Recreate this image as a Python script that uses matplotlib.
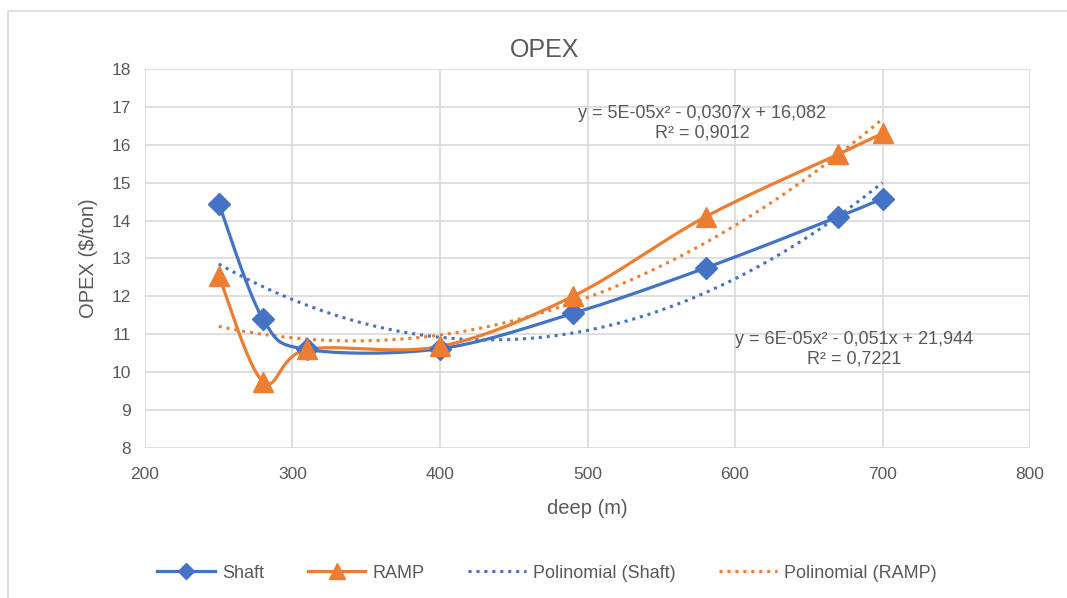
import numpy as np
import matplotlib.pyplot as plt
from matplotlib.patches import Rectangle
from matplotlib.lines import Line2D

plt.rcParams['font.family'] = ['Liberation Sans', 'DejaVu Sans']

deep = [250, 280, 310, 400, 490, 580, 670, 700]
shaft = [14.45, 11.40, 10.60, 10.62, 11.55, 12.75, 14.10, 14.58]
ramp = [12.55, 9.75, 10.60, 10.68, 12.00, 14.10, 15.75, 16.30]

shaft_eq = "y = 6E-05x² - 0,051x + 21,944\nR² = 0,7221"
ramp_eq = "y = 5E-05x² - 0,0307x + 16,082\nR² = 0,9012"

BLUE = "#4472C4"
ORANGE = "#ED7D31"
GRAY = "#595959"

XMIN, XMAX, YMIN, YMAX = 200, 800, 8, 18
AX_W, AX_H = 885, 379  # plot area in pixels, used for smoothing


def smooth(xs, ys, n=30):
    # Bezier smoothing through every point, computed in screen space
    px = (np.array(xs, float) - XMIN) / (XMAX - XMIN) * AX_W
    py = (np.array(ys, float) - YMIN) / (YMAX - YMIN) * AX_H
    pts = np.column_stack([px, py])
    out = [pts[0]]
    t = np.linspace(0, 1, n)[1:, None]
    for i in range(len(pts) - 1):
        p0 = pts[i - 1] if i > 0 else pts[i]
        p1, p2 = pts[i], pts[i + 1]
        p3 = pts[i + 2] if i + 2 < len(pts) else pts[i + 1]
        c1 = p1 + (p2 - p0) / 6
        c2 = p2 - (p3 - p1) / 6
        seg = ((1 - t) ** 3) * p1 + 3 * ((1 - t) ** 2) * t * c1 + 3 * (1 - t) * t ** 2 * c2 + t ** 3 * p2
        out.extend(seg)
    out = np.array(out)
    return out[:, 0] / AX_W * (XMAX - XMIN) + XMIN, out[:, 1] / AX_H * (YMAX - YMIN) + YMIN


fig = plt.figure(figsize=(10.67, 5.98), dpi=100)
fig.patches.append(Rectangle((8 / 1067, -0.1), 1.2, 1 - 11 / 598 + 0.1, transform=fig.transFigure,
                             fill=False, edgecolor="#D9D9D9", linewidth=1.2))
ax = fig.add_axes([145 / 1067, 1 - 448 / 598, 885 / 1067, 379 / 598])

ax.set_xlim(XMIN, XMAX)
ax.set_ylim(YMIN, YMAX)
ax.set_xticks(range(200, 801, 100))
ax.set_yticks(range(8, 19, 1))
ax.grid(True, color="#D9D9D9", linewidth=1.2)
ax.set_axisbelow(True)
for s in ax.spines.values():
    s.set_visible(False)
ax.tick_params(length=0, labelsize=12.5, colors=GRAY)
ax.tick_params(axis="x", pad=14)
ax.tick_params(axis="y", pad=10)

# polynomial trendlines
xt = np.linspace(250, 700, 200)
for ys, col in [(shaft, BLUE), (ramp, ORANGE)]:
    c = np.polyfit(deep, ys, 2)
    ax.plot(xt, np.polyval(c, xt), color=col, linestyle=(0, (1, 1.6)), linewidth=2.2, zorder=2)

# smoothed data series
sx, sy = smooth(deep, shaft)
ax.plot(sx, sy, color=BLUE, linewidth=2.3, zorder=3)
ax.plot(deep, shaft, linestyle="none", marker="D", markersize=11, color=BLUE, zorder=4)
rx, ry = smooth(deep, ramp)
ax.plot(rx, ry, color=ORANGE, linewidth=2.3, zorder=3)
ax.plot(deep, ramp, linestyle="none", marker="^", markersize=14, color=ORANGE, zorder=4)

ax.text(578, 16.58, ramp_eq, ha="center", va="center", fontsize=13, color=GRAY, linespacing=1.2)
ax.text(681, 10.61, shaft_eq, ha="center", va="center", fontsize=13, color=GRAY, linespacing=1.2)

fig.text(545 / 1067, 1 - 50 / 598, "OPEX", fontsize=18, color=GRAY, ha="center", va="center")
ax.set_xlabel("deep (m)", fontsize=14.5, color=GRAY, labelpad=12)
ax.set_ylabel("OPEX ($/ton)", fontsize=14.5, color=GRAY, labelpad=10)

handles = [
    Line2D([], [], color=BLUE, linewidth=2.3, marker="D", markersize=8),
    Line2D([], [], color=ORANGE, linewidth=2.3, marker="^", markersize=11),
    Line2D([], [], color=BLUE, linestyle=(0, (1, 1.6)), linewidth=2.2),
    Line2D([], [], color=ORANGE, linestyle=(0, (1, 1.6)), linewidth=2.2),
]
labels = ["Shaft", "RAMP", "Polinomial (Shaft)", "Polinomial (RAMP)"]
leg = fig.legend(handles, labels, loc="center", bbox_to_anchor=(547 / 1067, 1 - 573 / 598), ncol=4,
                 frameon=False, fontsize=13, handlelength=3.2, columnspacing=2.4, handletextpad=0.4)
for t in leg.get_texts():
    t.set_color(GRAY)

fig.savefig("out.png", dpi=100)
